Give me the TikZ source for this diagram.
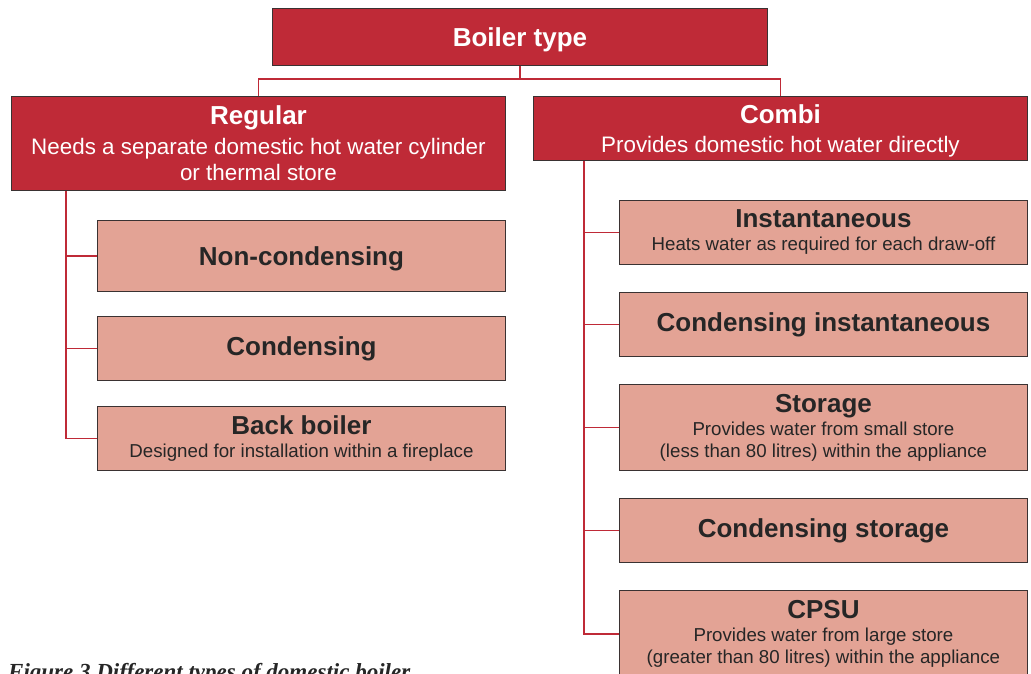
\documentclass[tikz,border=0pt]{standalone}
\usepackage{fontspec}
\setmainfont{Liberation Sans}
\newfontfamily\capfont{Liberation Serif}
\definecolor{boilerred}{HTML}{BF2A37}
\definecolor{boilerpink}{HTML}{E3A395}
\definecolor{boxedge}{HTML}{3A3232}
\tikzset{
	headbox/.style={draw=boxedge, line width=0.9pt, fill=boilerred, text=white, anchor=north west, inner sep=0pt, align=center, minimum width=494pt, font=\fontsize{22.4}{26}\selectfont},
	typebox/.style={draw=boxedge, line width=0.9pt, fill=boilerpink, text=black!85, anchor=north west, inner sep=0pt, align=center, minimum width=408pt, font=\fontsize{18.7}{22}\selectfont},
	link/.style={draw=boilerred, line width=1.6pt},
}
\newcommand{\boxtitle}[1]{{\bfseries\fontsize{26}{28}\selectfont #1}}

\begin{document}
\begin{tikzpicture}[x=1pt, y=-1pt]
		%%%%% START %%%%%
		\useasboundingbox (0, 0) rectangle (1031, 673);
		\clip (0, 0) rectangle (1031, 673);
		
		\node[headbox, minimum width=495pt, minimum height=57pt, text depth=0pt] (boiler) at (272, 8) {\boxtitle{Boiler type}};
		
		\node[headbox, minimum height=94pt] (regular) at (11, 96) {\boxtitle{Regular}\\[4pt] Needs a separate domestic hot water cylinder\\ or thermal store};
		\node[headbox, minimum height=64pt, text depth=0pt] (combi) at (533, 96) {\boxtitle{Combi}\\[3pt] Provides domestic hot water directly};
		
		\draw[link] (boiler.south) -- ++(0, 13) -| (regular.north);
		\draw[link] (boiler.south) -- ++(0, 13) -| (combi.north);
		
		% regular boilers
		\node[typebox, minimum height=71pt, text depth=0pt] (noncond) at (97, 220) {\boxtitle{Non-condensing}};
		\node[typebox, minimum height=64pt] (cond) at (97, 316) {\boxtitle{Condensing}};
		\node[typebox, minimum height=64pt] (backboiler) at (97, 406) {\boxtitle{Back boiler}\\[1pt] Designed for installation within a fireplace};
		
		\coordinate (regtrunk) at ([xshift=55pt]regular.south west);
		\draw[link] (regtrunk) |- (noncond.west);
		\draw[link] (regtrunk) |- (cond.west);
		\draw[link] (regtrunk) |- (backboiler.west);
		
		% combi boilers
		\node[typebox, minimum height=64pt] (instant) at (619, 200) {\boxtitle{Instantaneous}\\[1pt] Heats water as required for each draw-off};
		\node[typebox, minimum height=64pt] (condinstant) at (619, 292) {\boxtitle{Condensing instantaneous}};
		\node[typebox, minimum height=86pt] (storage) at (619, 384) {\boxtitle{Storage}\\[1pt] Provides water from small store\\ (less than 80 litres) within the appliance};
		\node[typebox, minimum height=64pt] (condstorage) at (619, 498) {\boxtitle{Condensing storage}};
		\node[typebox, minimum height=87pt] (cpsu) at (619, 590) {\boxtitle{CPSU}\\[1pt] Provides water from large store\\ (greater than 80 litres) within the appliance};
		
		\coordinate (combitrunk) at ([xshift=51pt]combi.south west);
		\draw[link] (combitrunk) |- (instant.west);
		\draw[link] (combitrunk) |- (condinstant.west);
		\draw[link] (combitrunk) |- (storage.west);
		\draw[link] (combitrunk) |- (condstorage.west);
		\draw[link] (combitrunk) |- (cpsu.west);
		
		\node[anchor=base west, inner sep=0pt, text=black!85, font=\capfont\bfseries\itshape\fontsize{23}{26}\selectfont] (caption) at (8, 679) {Figure 3 Different types of domestic boiler};
		%%%%% END %%%%%
\end{tikzpicture}
\end{document}
